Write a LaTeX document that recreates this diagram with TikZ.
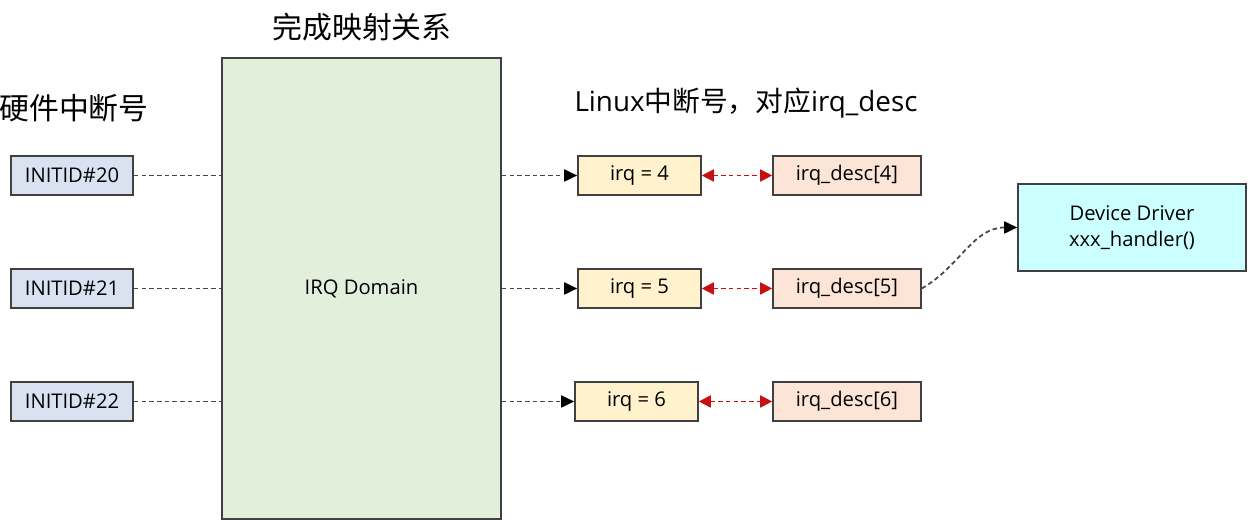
\documentclass[tikz,border=0pt]{standalone}
\usepackage{fontspec}
\setmainfont{Open Sans}
\newfontfamily\cjk{Noto Sans CJK SC}
\usetikzlibrary{calc,arrows.meta}
\definecolor{hwfill}{RGB}{218,226,242}
\definecolor{domfill}{RGB}{226,239,218}
\definecolor{irqfill}{RGB}{255,242,204}
\definecolor{descfill}{RGB}{252,228,214}
\definecolor{drvfill}{RGB}{204,255,255}
\definecolor{edge}{RGB}{64,64,64}
\definecolor{linkred}{RGB}{200,16,16}

\begin{document}
\begin{tikzpicture}[
		box/.style={draw=edge, line width=0.9pt, minimum height=0.78cm, inner sep=0pt, font=\fontsize{11.5}{14}\selectfont},
		hwbox/.style={box, fill=hwfill, minimum width=2.44cm},
		irqbox/.style={box, fill=irqfill, minimum width=2.46cm},
		descbox/.style={box, fill=descfill, minimum width=2.96cm},
		dashline/.style={dash pattern=on 2.6pt off 1.8pt, line width=1pt, color=black!72},
		maplink/.style={dashline, -{Triangle[length=2.6mm, width=2.4mm, color=black]}},
		desclink/.style={dashline, color=linkred, {Triangle[length=2.4mm, width=2.4mm]}-{Triangle[length=2.4mm, width=2.4mm]}},
		title/.style={font=\cjk\fontsize{17}{20}\selectfont}
	]
			%%%%% START %%%%%
			
			\useasboundingbox (0, 0) rectangle (25.1, 10.6);
			
			\node[title] (tmap) at (7.24, 10.06) {完成映射关系};
			\node[title] (thw) at (1.48, 8.44) {硬件中断号};
			\node[title, font=\fontsize{15.8}{19}\selectfont] (tlinux) at (14.92, 8.54) {Linux\cjk 中断号，对应\fontspec{Open Sans}irq\_desc};
			
			\node[box, fill=domfill, minimum width=5.58cm, minimum height=9.22cm] (domain) at (7.23, 4.83) {IRQ Domain};
			
			\node[hwbox] (hw20) at (1.44, 7.09) {INITID\#20};
			\node[hwbox] (hw21) at (1.44, 4.83) {INITID\#21};
			\node[hwbox] (hw22) at (1.44, 2.57) {INITID\#22};
			
			\node[irqbox] (irq4) at (12.79, 7.09) {irq = 4};
			\node[irqbox] (irq5) at (12.79, 4.83) {irq = 5};
			\node[irqbox] (irq6) at (12.73, 2.57) {irq = 6};
			
			\node[descbox] (desc4) at (16.94, 7.09) {irq\_desc[4]};
			\node[descbox] (desc5) at (16.94, 4.83) {irq\_desc[5]};
			\node[descbox] (desc6) at (16.94, 2.57) {irq\_desc[6]};
			
			\node[box, fill=drvfill, minimum width=4.56cm, minimum height=1.74cm, align=center] (driver) at (22.64, 6.05) {Device Driver\\[1pt]xxx\_handler()};
			
			\draw[dashline] (hw20.east) -- (hw20.east -| domain.west);
			\draw[dashline] (hw21.east) -- (hw21.east -| domain.west);
			\draw[dashline] (hw22.east) -- (hw22.east -| domain.west);
			
			\draw[maplink] (irq4.west -| domain.east) -- (irq4.west);
			\draw[maplink] (irq5.west -| domain.east) -- (irq5.west);
			\draw[maplink] (irq6.west -| domain.east) -- (irq6.west);
			
			\draw[desclink] (irq4.east) -- (desc4.west);
			\draw[desclink] (irq5.east) -- (desc5.west);
			\draw[desclink] (irq6.east) -- (desc6.west);
			
			\draw[maplink] (desc5.east) to[out=30, in=180] (driver.west);
			
			%%%%% END %%%%%
\end{tikzpicture}
\end{document}
